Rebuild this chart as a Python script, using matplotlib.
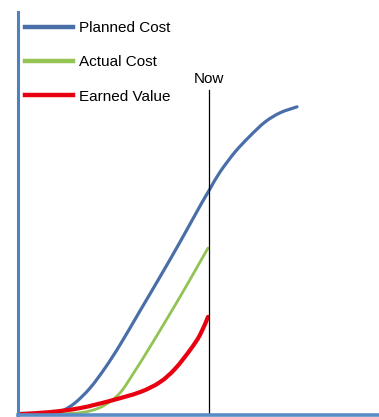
import matplotlib
matplotlib.use("Agg")
import matplotlib.pyplot as plt
from matplotlib.path import Path
from matplotlib.patches import PathPatch
from matplotlib.lines import Line2D

# Earned value curves (time in weeks, cost in thousands)
planned_t = [0.25, 3.25, 4.45, 5.75, 7.25, 8.75, 10.25, 12.25, 14.25, 16.25, 18.25,
             19.25, 20.25, 21.75, 23.25, 24.75, 26.25, 27.95]
planned_cost = [0.25, 0.4, 0.9, 2.9, 6.6, 11.6, 17.4, 25.9, 34.4, 43.1, 52.1,
                56.4, 60.6, 65.6, 69.6, 73.1, 75.4, 76.9]

actual_t = [0.25, 5.25, 7.25, 8.75, 10.25, 11.75, 13.25, 14.75, 16.25, 17.75, 19.05]
actual_cost = [0.1, 0.25, 0.9, 2.4, 5.4, 10.9, 16.9, 23.1, 29.4, 35.9, 41.6]

earned_t = [0.25, 3.25, 6.25, 9.25, 12.25, 14.25, 15.75, 17.25, 18.25, 19.05]
earned_value = [0.1, 0.6, 1.6, 3.4, 5.6, 8.1, 11.4, 16.1, 19.9, 24.4]

now_t = 19.15
now_top = 81.1

labels = ["Planned Cost", "Actual Cost", "Earned Value"]
colors = ["#4A6FA8", "#92C353", "#E80010"]
widths = [2.3, 2.0, 3.0]


def smooth_path(xs, ys):
    """Catmull-Rom curve through the points, as cubic Bezier segments."""
    pts = list(zip(xs, ys))
    verts = [pts[0]]
    codes = [Path.MOVETO]
    n = len(pts)
    for i in range(n - 1):
        p0 = pts[i - 1] if i > 0 else pts[i]
        p1 = pts[i]
        p2 = pts[i + 1]
        p3 = pts[i + 2] if i + 2 < n else pts[i + 1]
        c1 = (p1[0] + (p2[0] - p0[0]) / 6, p1[1] + (p2[1] - p0[1]) / 6)
        c2 = (p2[0] - (p3[0] - p1[0]) / 6, p2[1] - (p3[1] - p1[1]) / 6)
        verts += [c1, c2, p2]
        codes += [Path.CURVE4] * 3
    return Path(verts, codes)


plt.rcParams["font.family"] = ["Liberation Sans", "DejaVu Sans"]

fig = plt.figure(figsize=(3.79, 4.17), dpi=100)
ax = fig.add_axes([17.5 / 379, 2.5 / 417, 1 - 17.5 / 379, (414.5 - 12) / 417])
ax.set_xlim(0, 36.15)
ax.set_ylim(0, 100.6)

series = [(planned_t, planned_cost), (actual_t, actual_cost), (earned_t, earned_value)]
handles = []
for (xs, ys), color, lw, label in zip(series, colors, widths, labels):
    ax.add_patch(PathPatch(smooth_path(xs, ys), fill=False, edgecolor=color,
                           lw=lw, capstyle="round", joinstyle="round"))
    handles.append(Line2D([], [], color=color, lw=3.2, label=label))

ax.plot([now_t, now_t], [0, now_top], color="black", lw=0.9)
ax.text(now_t, now_top + 1.0, "Now", ha="center", va="bottom", fontsize=11)

ax.set_xticks([])
ax.set_yticks([])
for side in ("top", "right"):
    ax.spines[side].set_visible(False)
ax.spines["left"].set_color("#4F81BD")
ax.spines["left"].set_linewidth(2.2)
ax.spines["bottom"].set_color("#5A8CC6")
ax.spines["bottom"].set_linewidth(2.6)

ax.legend(handles=handles, loc="upper left",
          bbox_to_anchor=(25 / 379, 1 - 21 / 417),
          bbox_transform=fig.transFigure, frameon=False, fontsize=11,
          handlelength=3.14, handletextpad=0.4, labelspacing=1.33,
          borderpad=0, borderaxespad=0)

fig.savefig("out.png", dpi=100)
